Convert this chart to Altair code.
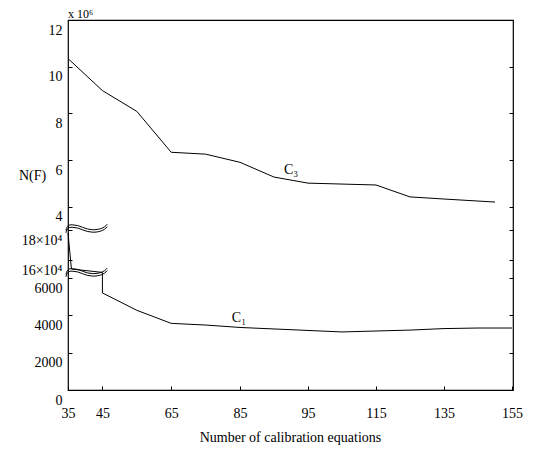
import altair as alt
import pandas as pd

# ---- data ----
c3_x = [35, 45, 55, 65, 75, 85, 90, 95, 115, 125, 135, 150]
c3_y = [10.35e6, 8.98e6, 8.09e6, 6.34e6, 6.26e6, 5.91e6, 5.28e6, 5.02e6, 4.94e6, 4.43e6, 4.34e6, 4.21e6]

c1_x = [35, 36, 45, 45, 55, 65, 75, 85, 95, 105, 115, 125, 135, 145, 155]
c1_y = [178000, 154000, 6300, 5200, 4270, 3570, 3480, 3350, 3190, 3110, 3160, 3210, 3290, 3320, 3320]

x_ticks = [35, 45, 65, 85, 95, 115, 135, 155]
y_ticks = [0, 2000, 4000, 6000, 160000, 180000, 4e6, 6e6, 8e6, 10e6, 12e6]

curve_names = ["C₃", "C₁"]
name_x = [92.5, 84.7]
name_y = [5.58e6, 3860]

break_x = [40.4, 40.4]
break_y = [181000, 6300]

FONT = "Liberation Serif"

c3 = pd.DataFrame({"x": c3_x, "y": c3_y, "i": range(len(c3_x))})
c1 = pd.DataFrame({"x": c1_x, "y": c1_y, "i": range(len(c1_x))})
names = pd.DataFrame({"x": name_x, "y": name_y, "t": curve_names})
breaks = pd.DataFrame({"x": break_x, "y": break_y})
exp_lbl = pd.DataFrame({"x": [35], "y": [12e6], "t": ["x 10⁶"]})

x_scale = alt.Scale(domain=[35, 85, 95, 155], range=[0, 172, 240, 444], nice=False, zero=False)
y_scale = alt.Scale(domain=[0, 6300, 152000, 181000, 3.1e6, 12e6],
                    range=[370, 252.4, 252, 208.5, 208, 0], nice=False, zero=False)

label_expr = ("datum.value >= 1000000 ? format(datum.value/1000000, 'd') : "
              "(datum.value >= 100000 ? format(datum.value/10000, 'd') + '×10⁴' : format(datum.value, 'd'))")

x_axis = alt.Axis(values=x_ticks, offset=-4, tickSize=4, domain=False, grid=False,
                  labelPadding=23, labelBaseline="middle", labelFont=FONT, labelFontSize=14,
                  labelColor="black", tickColor="black", labelOverlap=False, labelFlush=False,
                  title="Number of calibration equations", titleX=222, titleY=51,
                  titleBaseline="middle", titleFont=FONT, titleFontSize=14,
                  titleFontWeight="normal", titleColor="black")

y_axis = alt.Axis(values=y_ticks, labelExpr=label_expr, offset=-4, tickSize=4, domain=False,
                  grid=False, labelPadding=6, labelOffset=10, labelBaseline="middle",
                  labelFont=FONT, labelFontSize=14, labelColor="black", tickColor="black",
                  labelOverlap=False, labelFlush=False,
                  title="N(F)", titleAngle=0, titleX=-40, titleY=155, titleAlign="center",
                  titleBaseline="middle", titleFont=FONT, titleFontSize=14,
                  titleFontWeight="normal", titleColor="black")

y_axis_right = alt.Axis(values=y_ticks, orient="right", offset=-4, tickSize=4, domain=False,
                        grid=False, labels=False, tickColor="black", title=None)

line_c3 = alt.Chart(c3).mark_line(color="black", strokeWidth=1).encode(
    x=alt.X("x:Q", scale=x_scale, axis=x_axis),
    y=alt.Y("y:Q", scale=y_scale, axis=y_axis),
    order="i:Q",
)

line_c1 = alt.Chart(c1).mark_line(color="black", strokeWidth=1).encode(
    x=alt.X("x:Q", scale=x_scale, axis=x_axis),
    y=alt.Y("y:Q", scale=y_scale, axis=y_axis_right),
    order="i:Q",
)

name_text = alt.Chart(names).mark_text(font=FONT, fontSize=14, color="black").encode(
    x=alt.X("x:Q", scale=x_scale, axis=x_axis),
    y=alt.Y("y:Q", scale=y_scale, axis=None),
    text="t:N",
)

exp_text = alt.Chart(exp_lbl).mark_text(font=FONT, fontSize=12, color="black",
                                        align="left", baseline="bottom", dy=1).encode(
    x=alt.X("x:Q", scale=x_scale, axis=x_axis),
    y=alt.Y("y:Q", scale=y_scale, axis=None),
    text="t:N",
)

wave = ("M-1,0.09 C-0.95,-0.16 -0.85,-0.18 -0.7,-0.18 C-0.3,-0.18 -0.1,0.06 0.3,0.06 "
        "C0.6,0.06 0.85,-0.01 1,-0.21 "
        "M-1,0.21 C-0.95,-0.04 -0.85,-0.06 -0.7,-0.06 C-0.3,-0.06 -0.1,0.18 0.3,0.18 "
        "C0.6,0.18 0.85,0.11 1,-0.09")

break_marks = alt.Chart(breaks).mark_point(shape=wave, size=1700, filled=False,
                                           color="black", strokeWidth=1, opacity=1).encode(
    x=alt.X("x:Q", scale=x_scale, axis=x_axis),
    y=alt.Y("y:Q", scale=y_scale, axis=None),
)

chart = alt.layer(line_c3, line_c1, name_text, exp_text, break_marks).resolve_axis(
    y="independent"
).properties(
    width=445, height=370,
    autosize=alt.AutoSizeParams(type="none"),
    padding={"left": 60, "top": 12, "right": 20, "bottom": 58},
    background="white",
).configure_view(stroke="black", strokeWidth=1.2)

chart.save("out.html", embed_options={"renderer": "svg", "actions": False})
